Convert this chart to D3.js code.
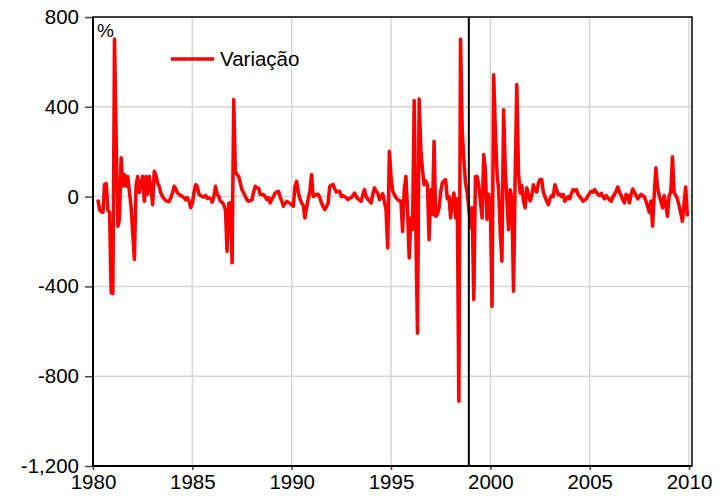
<!DOCTYPE html>
<html>
<head>
<meta charset="utf-8">
<script src="https://cdn.jsdelivr.net/npm/d3@7/dist/d3.min.js"></script>
<style>
  html, body { margin: 0; padding: 0; background: #fff; }
  svg { display: block; font-family: "Liberation Sans", Arial, sans-serif; }
</style>
</head>
<body>
<svg id="chart" width="726" height="502"></svg>
<script>
// Monthly variation (%), series starts April 1980
const startYear = 1980, startMonth = 3;
const var1980s = [
  -13, -60, -68, -70, 55, 58, -60, -70, -428,
  -432, 702, 250, -132, -100, 173, 46, 98, 46, 90, 20, -43,
  -160, -280, 46, 90, 18, 60, 90, -21, 90, 10, 90, 40,
  -36, 113, 95, 60, 46, 16, 0, -10, -18, -21, -22, -5,
  16, 46, 35, 16, 10, 5, 0, -5, -15, -5, -20, -49,
  -30, 18, 53, 46, 10, 5, 0, -2, 5, -8, -5, -10,
  -25, 0, 46, 10, 0, -21, -25, -36, -60, -244, -30, -27,
  -295, 432, 110, 98, 90, 60, 30, 16, 0, -15, -21, -18,
  -15, 20, 46, 38, 38, 9, 9, 9, 0, -13, -5, -28,
  -10, 0, 16, 20, 24, 0, -20, -43, -30, -21, -25, -30
];
const var1990s = [
  -35, -43, 46, 68, 20, -10, -28, -40, -95, -50, -10, 24,
  98, 0, 5, 9, 10, -5, -28, -45, -58, -45, -30, 46,
  50, 55, 35, 20, 22, 24, 0, 5, 0, -5, -13, -8,
  -5, 5, 16, 0, -10, -15, -21, 10, 31, 0, -10, -20,
  -28, 10, 39, 25, 16, -13, 0, 13, -21, -60, -229, 202,
  90, 24, 10, -5, -13, -20, -20, -155, 30, 90, -60, -273,
  -95, -147, 428, -147, -609, 435, 209, 120, 53, 70, 53, -192,
  30, -80, 246, -88, -80, -50, 20, 61, 70, 76, -10, 0,
  -95, -20, 16, -95, -10, -912, 702, 298, 165, 61, 20, -50
];
const var2000s = [
  -138, -50, -459, 90, 90, 50, -20, -95, 187, 120, -102, 10,
  -20, -489, 543, 300, 105, 30, -162, -288, 387, 120, -13, -147,
  30, -10, -422, 100, 499, 105, 16, 50, -20, -50, 39, 10,
  -20, 5, 53, 30, 20, 60, 76, 76, 20, 0, -20, -36,
  -10, 5, 0, 53, 30, 9, 10, 0, 10, -21, -10, 0,
  -10, 15, 31, 25, 31, 10, 0, -10, -21, -15, -10, 5,
  15, 24, 20, 31, 20, 10, 5, 15, 0, -10, 5, -5,
  -15, -21, 0, 10, 25, 43, 20, 5, -15, -28, 10, 5,
  -28, 10, 34, 20, 5, -10, 0, 10, 5, 0, -20, -43,
  -70, -20, -132, 10, 128, 39, 5, -20, -50, 5, -40, -88,
  5, 20, 177, 20, 5, -10, -40, -73, -110, -30, 43, -88
];
const seriesName = "Variação";
const unitLabel = "%";
const yTicks = [800, 400, 0, -400, -800, -1200];
const xTicks = [1980, 1985, 1990, 1995, 2000, 2005, 2010];
const markerYear = 1998 + 11 / 12; // December 1998

const values = var1980s.concat(var1990s, var2000s);
const data = values.map((v, i) => ({ t: startYear + (startMonth + i) / 12, v }));

const svg = d3.select("#chart");
const plotL = 93, plotR = 692, plotT = 17, plotB = 466;

const x = d3.scaleLinear().domain([1980, 2010.15]).range([plotL, plotR]);
const y = d3.scaleLinear().domain([-1200, 800]).range([plotB, plotT]);

// gridlines
const grid = svg.append("g").attr("stroke", "#d6d6d6").attr("stroke-width", 1.5);
grid.selectAll("line.h").data(yTicks.filter(d => d > -1200 && d < 800)).join("line")
  .attr("class", "h")
  .attr("x1", plotL).attr("x2", plotR).attr("y1", d => y(d)).attr("y2", d => y(d));
grid.selectAll("line.v").data(xTicks.filter(d => d > 1980)).join("line")
  .attr("class", "v")
  .attr("x1", d => x(d)).attr("x2", d => x(d)).attr("y1", plotT).attr("y2", plotB);

// axes (plain hyphen for negatives, comma thousands)
const fmt = d => d3.format(",")(Math.abs(d)).replace(/^/, d < 0 ? "-" : "");
const yAxis = d3.axisLeft(y).tickValues(yTicks).tickSize(8).tickPadding(6).tickFormat(fmt);
const gy = svg.append("g").attr("transform", `translate(${plotL},0)`).call(yAxis);
gy.select(".domain").remove();
gy.selectAll(".tick line").attr("stroke", "#444").attr("stroke-width", 1.5);
gy.selectAll(".tick text").attr("font-size", 20.5).attr("fill", "#000")
  .attr("font-family", "'Liberation Sans', Arial, sans-serif");

const xAxis = d3.axisBottom(x).tickValues(xTicks).tickSize(4).tickPadding(4).tickFormat(d3.format("d"));
const gx = svg.append("g").attr("transform", `translate(0,${plotB})`).call(xAxis);
gx.select(".domain").remove();
gx.selectAll(".tick line").attr("stroke", "#444").attr("stroke-width", 1.5);
gx.selectAll(".tick text").attr("font-size", 20.5).attr("fill", "#000")
  .attr("font-family", "'Liberation Sans', Arial, sans-serif");

// series line
const line = d3.line().x(d => x(d.t)).y(d => y(d.v));
svg.append("path").datum(data)
  .attr("fill", "none").attr("stroke", "#ff0000").attr("stroke-width", 3.5)
  .attr("stroke-linejoin", "round").attr("d", line);

// vertical marker
svg.append("line")
  .attr("x1", x(markerYear)).attr("x2", x(markerYear))
  .attr("y1", plotT).attr("y2", plotB)
  .attr("stroke", "#000").attr("stroke-width", 2);

// frame
svg.append("rect").attr("x", plotL).attr("y", plotT)
  .attr("width", plotR - plotL).attr("height", plotB - plotT)
  .attr("fill", "none").attr("stroke", "#000").attr("stroke-width", 1.5);
svg.append("line").attr("x1", plotL).attr("x2", plotL).attr("y1", plotT).attr("y2", plotB)
  .attr("stroke", "#000").attr("stroke-width", 2);
svg.append("line").attr("x1", plotL).attr("x2", plotR).attr("y1", plotB).attr("y2", plotB)
  .attr("stroke", "#000").attr("stroke-width", 2);

// unit label
svg.append("text").attr("x", 97).attr("y", 37).attr("font-size", 19).text(unitLabel);

// legend
svg.append("line").attr("x1", 171).attr("x2", 214).attr("y1", 59).attr("y2", 59)
  .attr("stroke", "#ff0000").attr("stroke-width", 3.5);
svg.append("text").attr("x", 220).attr("y", 65.5).attr("font-size", 20.5).text(seriesName);
</script>
</body>
</html>
